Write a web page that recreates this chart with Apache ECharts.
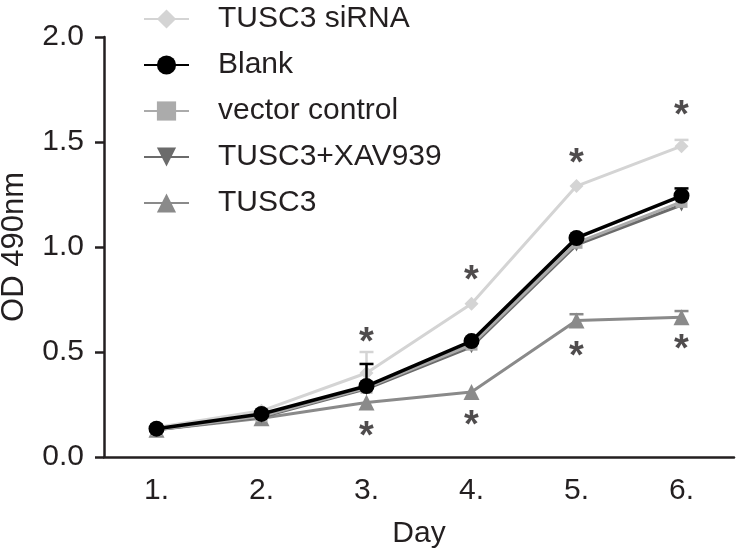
<!DOCTYPE html>
<html><head><meta charset="utf-8">
<script src="https://cdn.jsdelivr.net/npm/echarts@6/dist/echarts.min.js"></script>
<style>html,body{margin:0;padding:0;background:#fff}#c{width:740px;height:552px}</style>
</head><body><div id="c"></div>
<script>
const days = ['1.', '2.', '3.', '4.', '5.', '6.'];
const yTicks = [0, 0.5, 1.0, 1.5, 2.0];
const siRNA = [0.14, 0.22, 0.40, 0.73, 1.29, 1.48];
const siRNAErr = [0, 0, 0.10, 0, 0, 0.03];
const blank = [0.135, 0.205, 0.338, 0.552, 1.043, 1.244];
const blankErr = [0, 0, 0.105, 0, 0, 0.035];
const vector = [0.13, 0.195, 0.33, 0.535, 1.02, 1.215];
const xav = [0.13, 0.19, 0.325, 0.525, 1.01, 1.20];
const tusc3 = [0.13, 0.185, 0.26, 0.31, 0.65, 0.665];
const tusc3Err = [0, 0, 0, 0, 0.03, 0.03];
const starsAbove = [null, null, 0.59, 0.885, 1.44, 1.67];
const starsBelow = [null, null, 0.14, 0.195, 0.52, 0.555];

const FONT = 'Liberation Sans';
const TXT = '#231f20';
const chart = echarts.init(document.getElementById('c'));

function errSeries(name, vals, errs, color, z) {
  return {
    type: 'custom', name: name + '_err', z: z, silent: true,
    data: vals.map((v, i) => [i, v, errs[i]]),
    renderItem: function (params, api) {
      const e = api.value(2);
      if (!e) return null;
      const p0 = api.coord([api.value(0), api.value(1)]);
      const p1 = api.coord([api.value(0), api.value(1) + e]);
      const hw = 7;
      return {
        type: 'group', children: [
          { type: 'line', shape: { x1: p0[0], y1: p0[1], x2: p1[0], y2: p1[1] }, style: { stroke: color, lineWidth: 2.5 } },
          { type: 'line', shape: { x1: p1[0] - hw, y1: p1[1], x2: p1[0] + hw, y2: p1[1] }, style: { stroke: color, lineWidth: 2.5 } }
        ]
      };
    }
  };
}

function lineSeries(name, data, color, symbol, size, z, width) {
  return {
    type: 'line', name: name, data: data, z: z,
    symbol: symbol, symbolSize: size,
    itemStyle: { color: color },
    lineStyle: { color: color, width: width || 3 },
    emphasis: { disabled: true }
  };
}

function starSeries(vals) {
  return {
    type: 'scatter', data: vals.map((v, i) => v == null ? null : [i, v]),
    symbolSize: 1, itemStyle: { color: 'rgba(0,0,0,0)' }, z: 20, silent: true,
    label: { show: true, position: 'inside', formatter: '*', fontFamily: FONT, fontSize: 38, fontWeight: 'bold', color: TXT, offset: [0, 10] }
  };
}

chart.setOption({
  animation: false,
  backgroundColor: '#fff',
  grid: { left: 104, right: 6, top: 37, bottom: 95, containLabel: false, outerBoundsMode: 'none' },
  legend: {
    orient: 'vertical', left: 138, top: -1,
    itemWidth: 45, itemHeight: 24, itemGap: 16,
    data: ['TUSC3 siRNA', 'Blank', 'vector control', 'TUSC3+XAV939', 'TUSC3'],
    textStyle: { fontFamily: FONT, fontSize: 30, color: TXT, padding: [0, 0, 0, 24], lineHeight: 30 }
  },
  xAxis: {
    type: 'category', data: days, boundaryGap: true,
    name: 'Day', nameLocation: 'middle', nameGap: 62,
    nameTextStyle: { fontFamily: FONT, fontSize: 30, color: TXT },
    axisLine: { lineStyle: { color: TXT, width: 2.5 } },
    axisTick: { alignWithLabel: true, length: 10, lineStyle: { width: 2.5, color: TXT } },
    axisLabel: { fontFamily: FONT, fontSize: 30, color: TXT, margin: 19 },
    splitLine: { show: false }
  },
  yAxis: {
    type: 'value', min: 0, max: 2, interval: 0.5,
    name: 'OD 490nm', nameLocation: 'middle', nameGap: 74,
    nameTextStyle: { fontFamily: FONT, fontSize: 31, color: TXT },
    axisLine: { show: true, lineStyle: { color: TXT, width: 2.5 } },
    axisTick: { show: true, length: 9, lineStyle: { width: 2.5, color: TXT } },
    axisLabel: { fontFamily: FONT, fontSize: 30, color: TXT, margin: 20, formatter: v => v.toFixed(1) },
    splitLine: { show: false }
  },
  series: [
    errSeries('TUSC3 siRNA', siRNA, siRNAErr, '#d4d4d4', 1),
    lineSeries('TUSC3 siRNA', siRNA, '#d4d4d4', 'diamond', 14, 2),
    errSeries('TUSC3', tusc3, tusc3Err, '#8a8a8a', 3),
    lineSeries('TUSC3', tusc3, '#8a8a8a', 'triangle', 16, 4),
    lineSeries('TUSC3+XAV939', xav, '#6b6b6b', 'path://M0,0 L10,0 L5,9 Z', 13, 5),
    lineSeries('vector control', vector, '#ababab', 'rect', 12, 6),
    errSeries('Blank', blank, blankErr, '#000', 7),
    lineSeries('Blank', blank, '#000', 'circle', 16, 8, 3.5),
    starSeries(starsAbove),
    starSeries(starsBelow)
  ]
});
</script>
</body></html>
